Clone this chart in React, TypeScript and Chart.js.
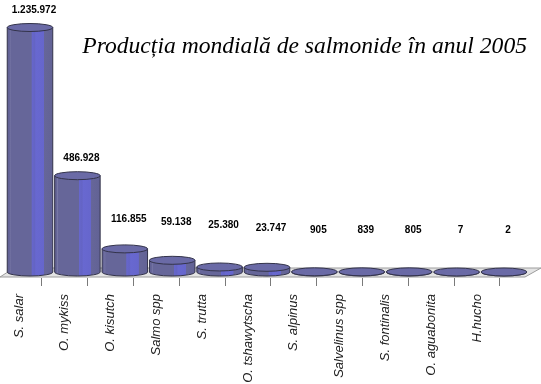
import { useEffect, useRef } from 'react';
import { Chart, registerables } from 'chart.js';

Chart.register(...registerables);

const species = [
  'S. salar', 'O. mykiss', 'O. kisutch', 'Salmo spp', 'S. trutta', 'O. tshawytscha',
  'S. alpinus', 'Salvelinus spp', 'S. fontinalis', 'O. aguabonita', 'H.hucho',
];
const production = [1235972, 486928, 116855, 59138, 25380, 23747, 905, 839, 805, 7, 2];
const chartTitle = 'Producția mondială de salmonide în anul 2005';

const fmt = (v: number) => String(v).replace(/\B(?=(\d{3})+(?!\d))/g, '.');

const cylinderPlugin = {
  id: 'cylinders3d',
  beforeDatasetsDraw(chart: any) {
    const ctx = chart.ctx;
    const b = chart.scales.y.getPixelForValue(0);
    const w = chart.width;
    ctx.save();
    ctx.beginPath();
    ctx.moveTo(0, b + 5);
    ctx.lineTo(w - 16, b + 5);
    ctx.lineTo(w, b - 4);
    ctx.lineTo(14, b - 4);
    ctx.closePath();
    ctx.fillStyle = '#e4e4e4';
    ctx.fill();
    ctx.strokeStyle = '#9c9c9c';
    ctx.lineWidth = 1;
    ctx.stroke();
    ctx.restore();
  },
  afterDatasetsDraw(chart: any) {
    const ctx = chart.ctx;
    const meta = chart.getDatasetMeta(0);
    const xb = chart.scales.xb;
    const step = xb.getPixelForValue(1) - xb.getPixelForValue(0);
    const rx = step * 0.48;
    const ry = 4;
    ctx.save();
    meta.data.forEach((el: any, i: number) => {
      const { x, y, base } = el.getProps(['x', 'y', 'base'], true);
      const g = ctx.createLinearGradient(x - rx, 0, x + rx, 0);
      g.addColorStop(0, '#5e5e90');
      g.addColorStop(0.05, '#666699');
      g.addColorStop(0.06, '#7a7aa8');
      g.addColorStop(0.08, '#666699');
      g.addColorStop(0.53, '#666699');
      g.addColorStop(0.54, '#6666cc');
      g.addColorStop(0.6, '#6464c4');
      g.addColorStop(0.63, '#6868d0');
      g.addColorStop(0.8, '#6666cc');
      g.addColorStop(0.81, '#666699');
      g.addColorStop(1, '#626295');
      ctx.beginPath();
      ctx.moveTo(x - rx, y);
      ctx.lineTo(x - rx, base);
      ctx.ellipse(x, base, rx, ry, 0, Math.PI, 0, true);
      ctx.lineTo(x + rx, y);
      ctx.closePath();
      ctx.fillStyle = g;
      ctx.fill();
      ctx.strokeStyle = '#33334a';
      ctx.lineWidth = 1;
      ctx.stroke();
      ctx.beginPath();
      ctx.ellipse(x, y, rx, ry, 0, 0, Math.PI * 2);
      ctx.fillStyle = '#6a6aa6';
      ctx.fill();
      ctx.strokeStyle = '#33334a';
      ctx.stroke();

      const ly = Math.min(y - 17, Math.min(230, 213 + 3 * i));
      ctx.fillStyle = '#000';
      ctx.font = 'bold 10px "Liberation Sans", Arial, sans-serif';
      ctx.textAlign = 'center';
      ctx.textBaseline = 'middle';
      ctx.fillText(fmt(production[i]), x + 4, ly);
    });
    ctx.restore();
  },
  afterDraw(chart: any) {
    const ctx = chart.ctx;
    ctx.save();
    ctx.font = 'italic 23.6px "Liberation Serif", "Times New Roman", serif';
    ctx.fillStyle = '#000';
    ctx.textAlign = 'right';
    ctx.textBaseline = 'alphabetic';
    ctx.fillText(chartTitle, 527, 53);
    ctx.restore();
  },
};

export default function App() {
  const ref = useRef<HTMLCanvasElement>(null);
  useEffect(() => {
    if (!ref.current) return;
    const chart = new Chart(ref.current, {
      type: 'bar',
      data: {
        datasets: [
          {
            data: production.map((v, i) => ({ x: i, y: v })),
            xAxisID: 'xb',
            yAxisID: 'y',
            backgroundColor: 'rgba(0,0,0,0)',
            borderWidth: 0,
            clip: false as any,
          },
        ],
      },
      options: {
        responsive: false,
        animation: false,
        layout: { padding: 0 },
        plugins: { legend: { display: false }, tooltip: { enabled: false }, title: { display: false } },
        scales: {
          x: {
            type: 'linear',
            position: 'bottom',
            offset: false,
            min: -0.415,
            max: 11.397,
            afterBuildTicks: (s: any) => {
              const t: any[] = [];
              for (let i = 0; i < species.length; i++) {
                t.push({ value: i });
                t.push({ value: i + 0.5 });
              }
              s.ticks = t;
            },
            afterFit: (s: any) => {
              s.height = 106;
            },
            border: { display: false },
            grid: {
              display: true,
              offset: false,
              drawOnChartArea: false,
              drawTicks: true,
              tickLength: 8,
              tickColor: (c: any) => (Number.isInteger(c.tick?.value) ? 'rgba(0,0,0,0)' : '#7a7a7a'),
            },
            ticks: {
              autoSkip: false,
              maxRotation: 90,
              minRotation: 90,
              padding: 8,
              color: '#222',
              font: { family: '"Liberation Sans", Arial, sans-serif', size: 13, style: 'italic' },
              callback: (v: any) => (Number.isInteger(v) ? species[v] : ''),
            },
          },
          xb: {
            type: 'linear',
            display: false,
            offset: false,
            grid: { offset: false },
            min: -0.6329,
            max: 10.7806,
          },
          y: {
            type: 'linear',
            display: false,
            min: -30330,
            max: 1375015,
          },
        },
      } as any,
      plugins: [cylinderPlugin],
    });
    return () => chart.destroy();
  }, []);
  return (
    <div style={{ position: 'fixed', left: 0, top: 0, width: 541, height: 384, background: '#fff' }}>
      <canvas ref={ref} width={541} height={384} style={{ display: 'block' }} />
    </div>
  );
}
